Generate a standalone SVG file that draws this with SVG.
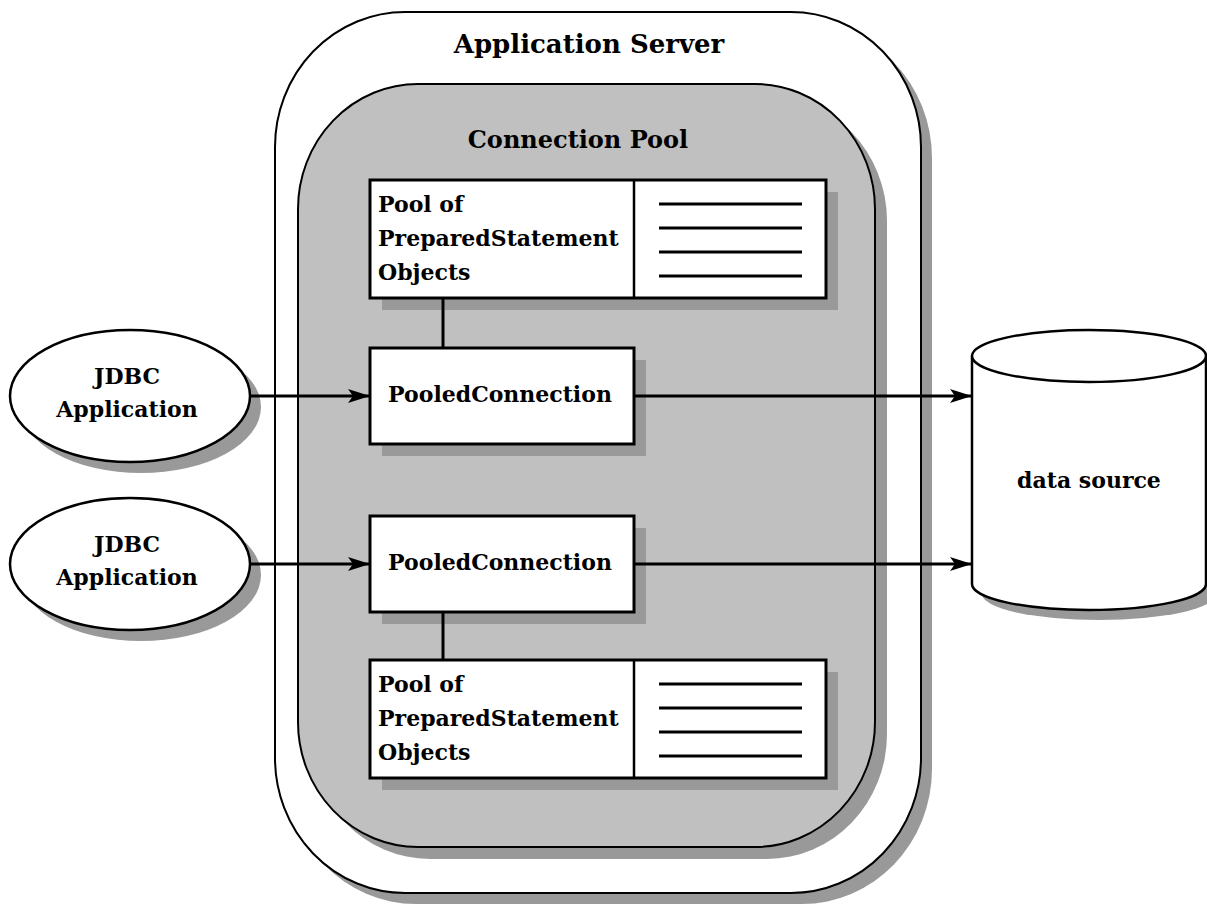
<svg xmlns="http://www.w3.org/2000/svg" width="1207" height="907" viewBox="0 0 1207 907">
<style>
.sh{fill:#999999;stroke:none}
.ln{stroke:#000;fill:none}
.box{fill:#fff;stroke:#000;stroke-width:3}
.t{font-family:"DejaVu Serif","Liberation Serif",serif;font-weight:bold;fill:#000}
.c{text-anchor:middle}
.conn{stroke:#000;stroke-width:3;fill:none}
</style>
<defs>
<marker id="ah" markerUnits="userSpaceOnUse" markerWidth="24" markerHeight="16" refX="22" refY="7" orient="auto">
<path d="M0,0 L22,7 L0,14 L5,7 z" fill="#000"/>
</marker>
</defs>
<rect width="1207" height="907" fill="#fff"/>
<g id="appserver">
<rect class="sh" x="286" y="23" width="646" height="881" rx="130" ry="135"/>
<rect x="275" y="12" width="646" height="881" rx="130" ry="135" fill="#fff" stroke="#000" stroke-width="2"/>
<text class="t c" x="589" y="53" font-size="26">Application Server</text>
</g>
<g id="pool">
<rect class="sh" x="310" y="96" width="577" height="763" rx="120" ry="125"/>
<rect x="298" y="84" width="577" height="763" rx="120" ry="125" fill="#c0c0c0" stroke="#000" stroke-width="2"/>
<text class="t c" x="578" y="148" font-size="24">Connection Pool</text>
</g>
<g id="psPool1">
<rect class="sh" x="382" y="192" width="456" height="118"/>
<rect class="box" x="370" y="180" width="456" height="118"/>
<line class="ln" x1="634" y1="180" x2="634" y2="298" stroke-width="2.5"/>
<g class="ln" stroke-width="3">
<line x1="659" y1="204" x2="802" y2="204"/>
<line x1="659" y1="228" x2="802" y2="228"/>
<line x1="659" y1="252" x2="802" y2="252"/>
<line x1="659" y1="276" x2="802" y2="276"/>
</g>
<text class="t" font-size="22"><tspan x="378" y="212">Pool of</tspan><tspan x="378" y="246">PreparedStatement</tspan><tspan x="378" y="280">Objects</tspan></text>
</g>
<g id="pc1">
<rect class="sh" x="382" y="360" width="264" height="96"/>
<rect class="box" x="370" y="348" width="264" height="96"/>
<text class="t c" x="500" y="402" font-size="22">PooledConnection</text>
</g>
<g id="pc2">
<rect class="sh" x="382" y="528" width="264" height="96"/>
<rect class="box" x="370" y="516" width="264" height="96"/>
<text class="t c" x="500" y="570" font-size="22">PooledConnection</text>
</g>
<g id="psPool2">
<rect class="sh" x="382" y="672" width="456" height="118"/>
<rect class="box" x="370" y="660" width="456" height="118"/>
<line class="ln" x1="634" y1="660" x2="634" y2="778" stroke-width="2.5"/>
<g class="ln" stroke-width="3">
<line x1="659" y1="684" x2="802" y2="684"/>
<line x1="659" y1="708" x2="802" y2="708"/>
<line x1="659" y1="732" x2="802" y2="732"/>
<line x1="659" y1="756" x2="802" y2="756"/>
</g>
<text class="t" font-size="22"><tspan x="378" y="692">Pool of</tspan><tspan x="378" y="726">PreparedStatement</tspan><tspan x="378" y="760">Objects</tspan></text>
</g>
<g id="jdbc1">
<ellipse class="sh" cx="141" cy="407" rx="120" ry="66"/>
<ellipse cx="130" cy="396" rx="120" ry="66" fill="#fff" stroke="#000" stroke-width="2.5"/>
<text class="t c" font-size="22"><tspan x="127" y="384">JDBC</tspan><tspan x="127" y="417">Application</tspan></text>
</g>
<g id="jdbc2">
<ellipse class="sh" cx="141" cy="575" rx="120" ry="66"/>
<ellipse cx="130" cy="564" rx="120" ry="66" fill="#fff" stroke="#000" stroke-width="2.5"/>
<text class="t c" font-size="22"><tspan x="127" y="552">JDBC</tspan><tspan x="127" y="585">Application</tspan></text>
</g>
<g id="datasource">
<ellipse class="sh" cx="1099" cy="594" rx="117" ry="26"/>
<path d="M972,356 L972,584 A117,26 0 0 0 1206,584 L1206,356" fill="#fff" stroke="#000" stroke-width="2.5"/>
<ellipse cx="1089" cy="356" rx="117" ry="26" fill="#fff" stroke="#000" stroke-width="2.5"/>
<text class="t c" x="1089" y="488" font-size="22">data source</text>
</g>
<g id="connectors">
<line class="conn" x1="443" y1="298" x2="443" y2="348"/>
<line class="conn" x1="443" y1="612" x2="443" y2="660"/>
<line class="conn" x1="250" y1="396" x2="370" y2="396" marker-end="url(#ah)"/>
<line class="conn" x1="250" y1="564" x2="370" y2="564" marker-end="url(#ah)"/>
<line class="conn" x1="634" y1="396" x2="972" y2="396" marker-end="url(#ah)"/>
<line class="conn" x1="634" y1="564" x2="972" y2="564" marker-end="url(#ah)"/>
</g>
</svg>
